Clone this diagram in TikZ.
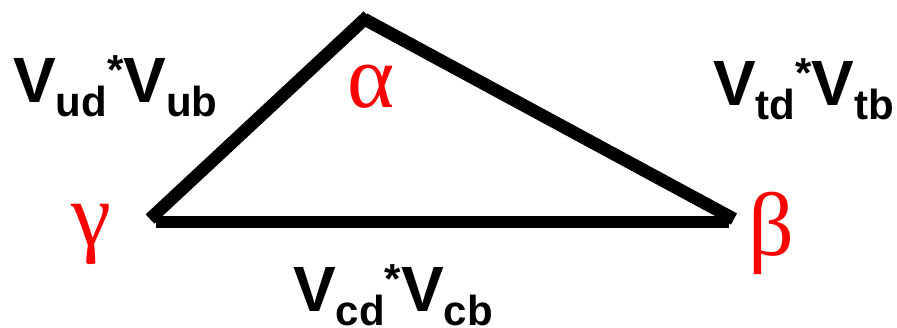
\documentclass[tikz,border=0pt]{standalone}
\usepackage{fontspec}
\setmainfont{Liberation Sans}
\newfontfamily\greekfont{Liberation Serif}
\definecolor{pured}{RGB}{255,0,0}
\newcommand{\ckmterm}[2]{\bfseries\fontsize{64}{64}\selectfont V\raisebox{-14pt}{\fontsize{42}{42}\selectfont #1}\raisebox{18pt}{\fontsize{42}{42}\selectfont *}V\raisebox{-14pt}{\fontsize{42}{42}\selectfont #2}}
\tikzset{
  side/.style={line width=12.7pt, line cap=butt, black},
  ckm/.style={inner sep=0pt, anchor=base west},
  angle/.style={inner sep=0pt, anchor=base, text=pured, font=\greekfont\fontsize{90}{90}\selectfont}
}
\begin{document}
\begin{tikzpicture}[x=1pt,y=-1pt]
\useasboundingbox (0,0) rectangle (897,328);
\coordinate (gl) at (150,219);
\coordinate (at) at (368,16);
\coordinate (ar) at (364,19);
\coordinate (br) at (734,219);
\coordinate (bl) at (156,222);
\coordinate (bb) at (729,222);
\draw[side] (gl) -- (at);
\draw[side] (ar) -- (br);
\draw[side] (bl) -- (bb);
\node[ckm] (ub) at (13,103) {\ckmterm{ud}{ub}};
\node[ckm] (tb) at (713,106) {\ckmterm{td}{tb}};
\node[ckm] (cb) at (293,312) {\ckmterm{cd}{cb}};
\node[angle] (alpha) at (371,108) {α};
\node[angle] (gamma) at (91,246) {γ};
\node[angle] (beta) at (771,256) {β};
\end{tikzpicture}
\end{document}
